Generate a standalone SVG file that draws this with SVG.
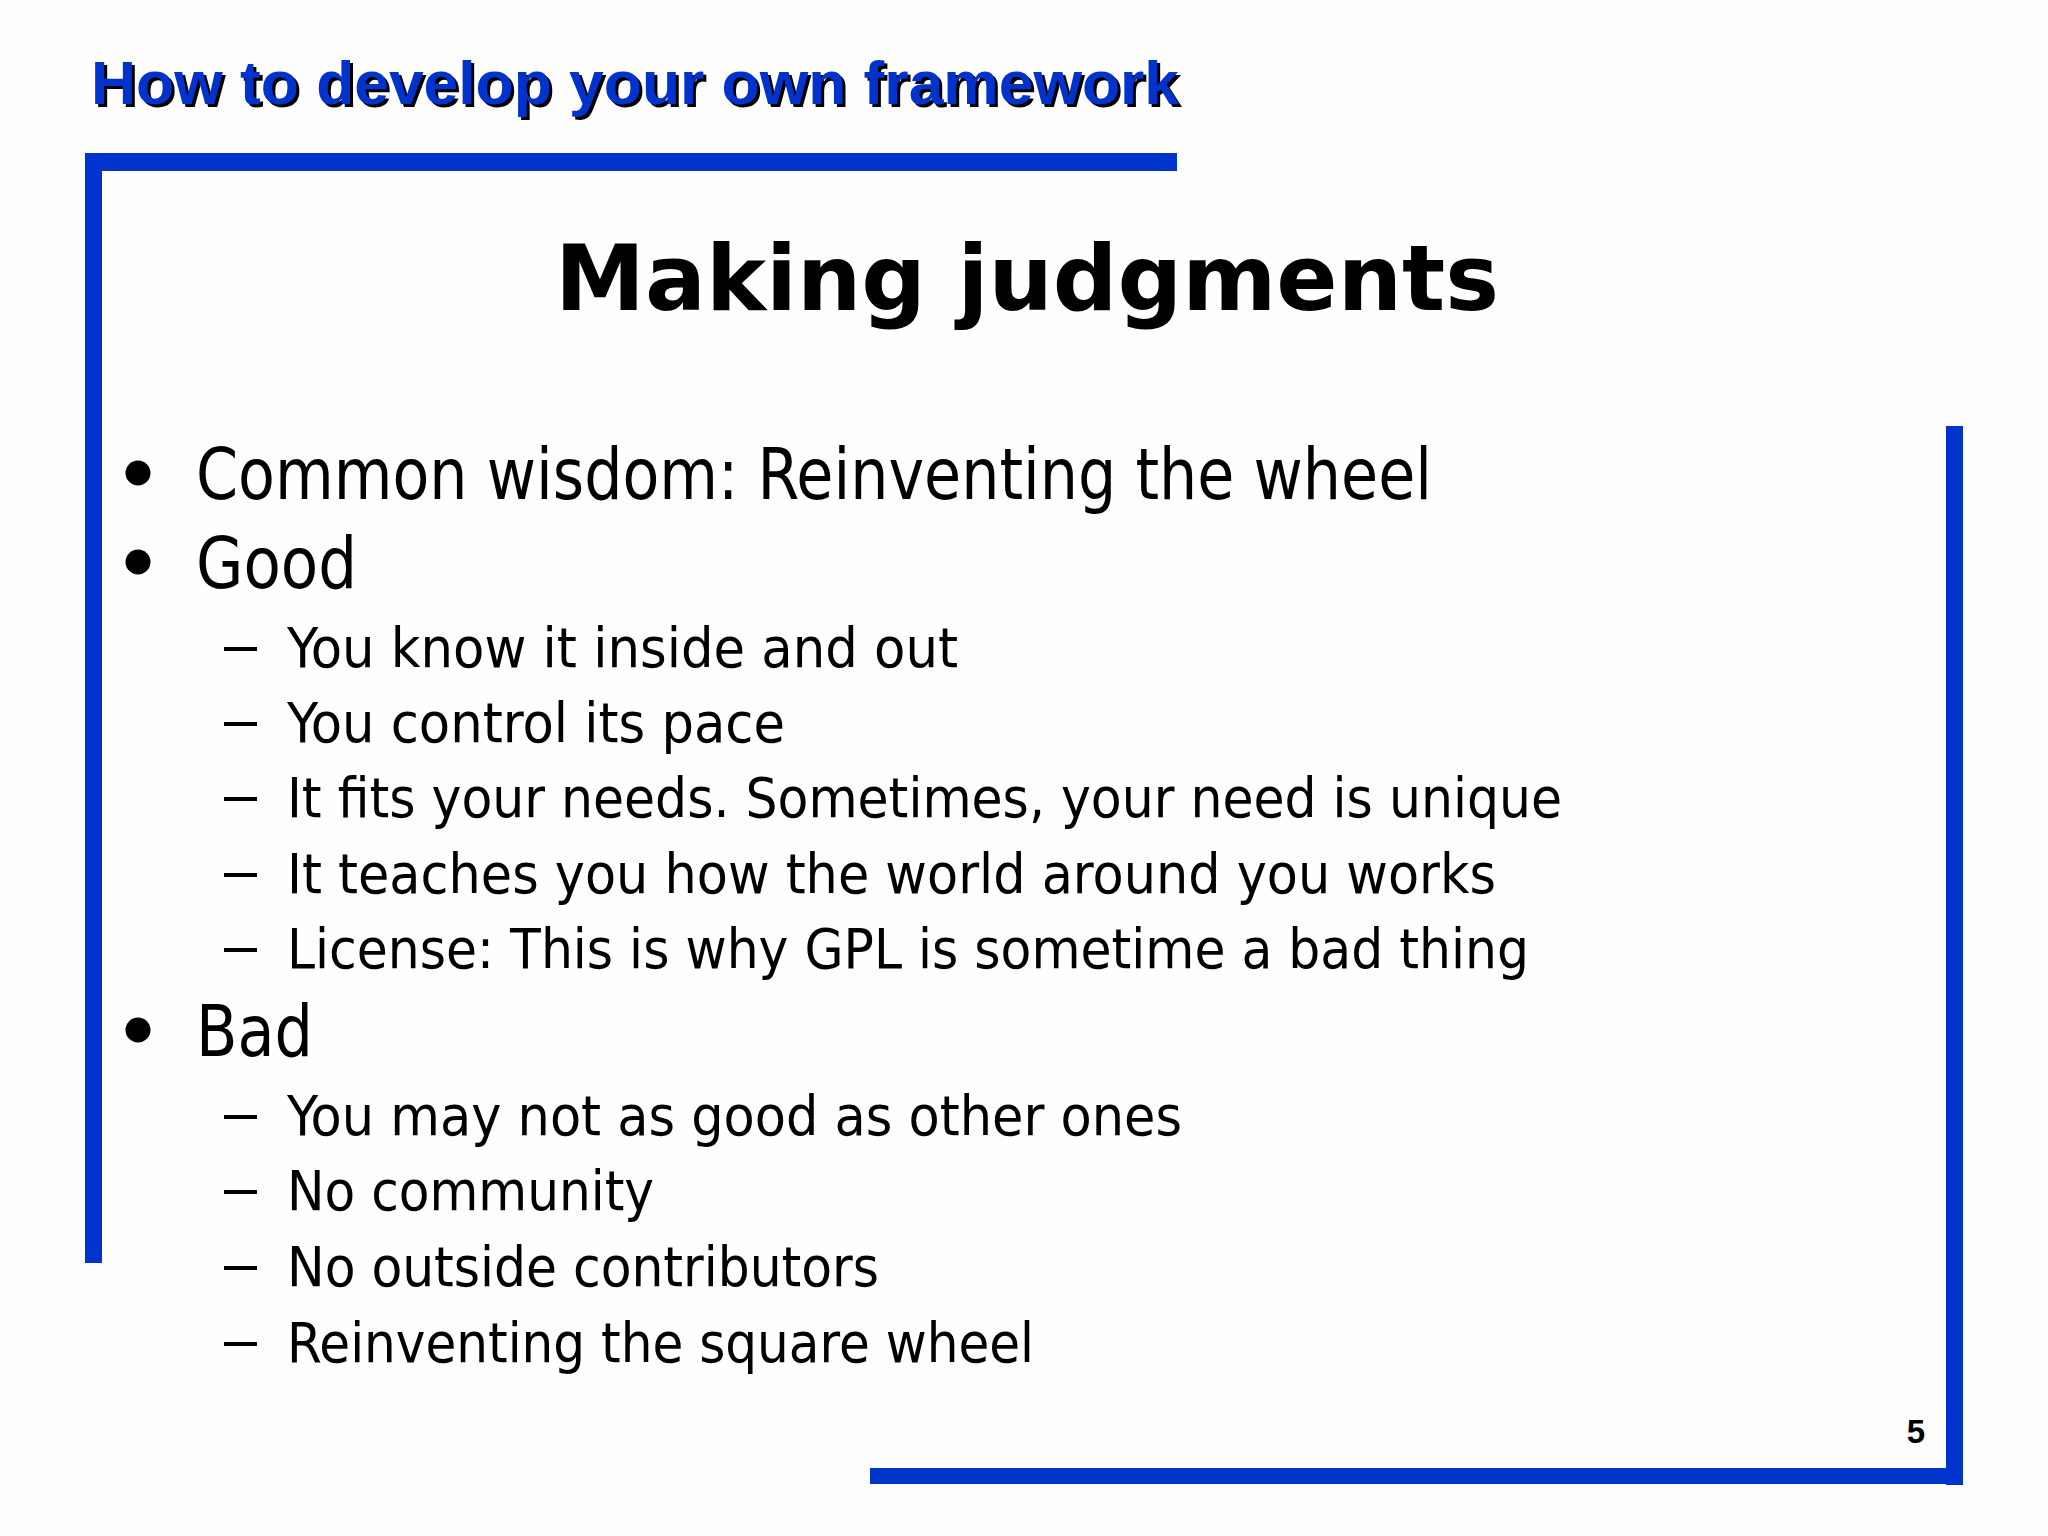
<svg xmlns="http://www.w3.org/2000/svg" width="2048" height="1536" viewBox="0 0 2048 1536">
  <style>
    .frame { fill: #0033CC; }
    .hdr { font-family: "Liberation Sans", Arial, sans-serif; font-weight: bold; font-size: 62px; }
    .title { font-family: "DejaVu Sans", Verdana, sans-serif; font-weight: bold; font-size: 90px; fill: #000; }
    .l1 { font-family: "DejaVu Sans Condensed", "DejaVu Sans", sans-serif; font-stretch: condensed; font-size: 71px; fill: #000; }
    .l2 { font-family: "DejaVu Sans Condensed", "DejaVu Sans", sans-serif; font-stretch: condensed; font-size: 55px; fill: #000; }
    .bul { fill: #000; }
    .num { font-family: "Liberation Sans", Arial, sans-serif; font-weight: bold; font-size: 33px; fill: #000; }
  </style>
  <rect x="0" y="0" width="2048" height="1536" fill="#FEFEFE"/>

  <g id="frame">
    <rect class="frame" x="85" y="153" width="1092" height="18"/>
    <rect class="frame" x="85" y="153" width="17" height="1110"/>
    <rect class="frame" x="1946" y="426" width="17" height="1059"/>
    <rect class="frame" x="870" y="1468" width="1093" height="16"/>
  </g>

  <g id="header">
    <text class="hdr" x="94" y="107" fill="#000" textLength="1088" lengthAdjust="spacingAndGlyphs">How to develop your own framework</text>
    <text class="hdr" x="91" y="104" fill="#0033CC" textLength="1088" lengthAdjust="spacingAndGlyphs">How to develop your own framework</text>
  </g>

  <g id="title">
    <text class="title" x="1027" y="310" text-anchor="middle" textLength="944" lengthAdjust="spacingAndGlyphs">Making judgments</text>
  </g>

  <g id="bullets">
    <circle class="bul" cx="138" cy="473" r="12.5"/>
    <circle class="bul" cx="138" cy="562" r="12.5"/>
    <circle class="bul" cx="138" cy="1030" r="12.5"/>
    <rect class="bul" x="224" y="647" width="33" height="4"/>
    <rect class="bul" x="224" y="722" width="33" height="4"/>
    <rect class="bul" x="224" y="797" width="33" height="4"/>
    <rect class="bul" x="224" y="873" width="33" height="4"/>
    <rect class="bul" x="224" y="948" width="33" height="4"/>
    <rect class="bul" x="224" y="1115" width="33" height="4"/>
    <rect class="bul" x="224" y="1190" width="33" height="4"/>
    <rect class="bul" x="224" y="1266" width="33" height="4"/>
    <rect class="bul" x="224" y="1342" width="33" height="4"/>
  </g>

  <g id="body">
    <text class="l1" x="196" y="499" textLength="1236" lengthAdjust="spacingAndGlyphs">Common wisdom: Reinventing the wheel</text>
    <text class="l1" x="196" y="588" textLength="161" lengthAdjust="spacingAndGlyphs">Good</text>
    <text class="l2" x="287" y="667" textLength="671" lengthAdjust="spacingAndGlyphs">You know it inside and out</text>
    <text class="l2" x="287" y="742" textLength="498" lengthAdjust="spacingAndGlyphs">You control its pace</text>
    <text class="l2" x="287" y="817" textLength="1275" lengthAdjust="spacingAndGlyphs">It fits your needs. Sometimes, your need is unique</text>
    <text class="l2" x="287" y="893" textLength="1209" lengthAdjust="spacingAndGlyphs">It teaches you how the world around you works</text>
    <text class="l2" x="287" y="968" textLength="1242" lengthAdjust="spacingAndGlyphs">License: This is why GPL is sometime a bad thing</text>
    <text class="l1" x="196" y="1056" textLength="117" lengthAdjust="spacingAndGlyphs">Bad</text>
    <text class="l2" x="287" y="1135" textLength="895" lengthAdjust="spacingAndGlyphs">You may not as good as other ones</text>
    <text class="l2" x="287" y="1210" textLength="367" lengthAdjust="spacingAndGlyphs">No community</text>
    <text class="l2" x="287" y="1286" textLength="592" lengthAdjust="spacingAndGlyphs">No outside contributors</text>
    <text class="l2" x="287" y="1362" textLength="747" lengthAdjust="spacingAndGlyphs">Reinventing the square wheel</text>
  </g>

  <g id="page-number">
    <text class="num" x="1925" y="1443" text-anchor="end">5</text>
  </g>
</svg>
